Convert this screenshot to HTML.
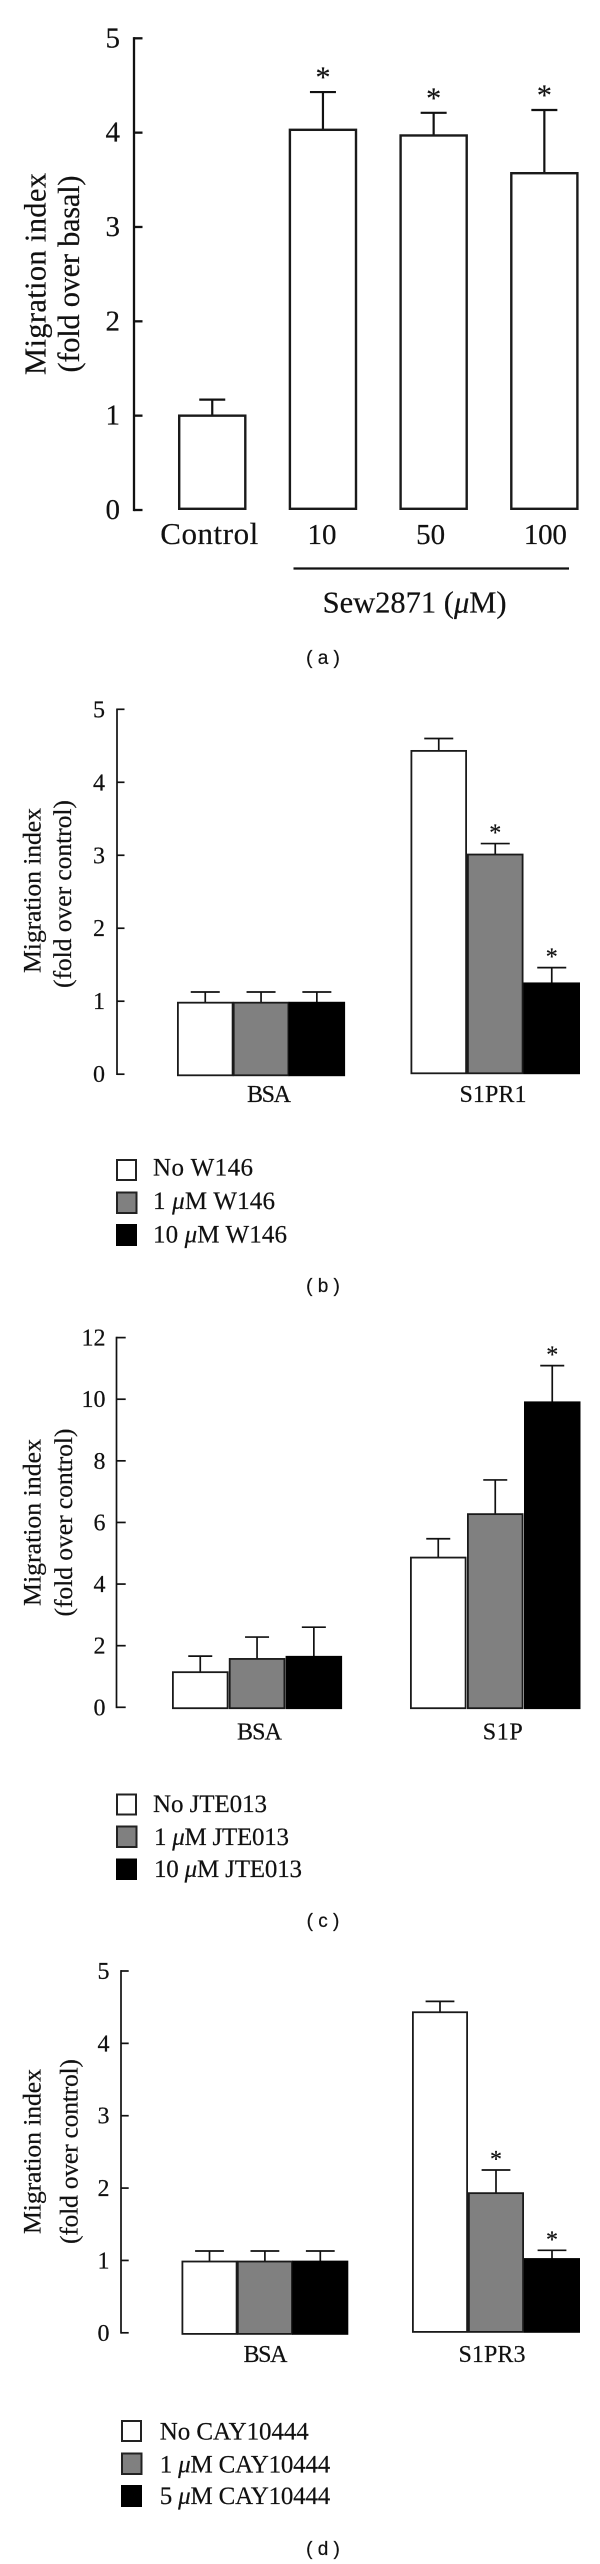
<!DOCTYPE html>
<html lang="en">
<head>
<meta charset="utf-8">
<title>Migration index panels</title>
<style>
html,body{margin:0;padding:0;background:#fff;}
svg{display:block;}
text{font-family:"Liberation Serif",serif;fill:#111;stroke:#111;stroke-width:.2px;}
.cap{font-family:"Liberation Sans",sans-serif;font-size:19px;text-anchor:middle;}
.ya{font-size:30.5px;}
.yb{font-size:25.8px;}
.leg{font-size:25px;}
.mu{font-style:italic;}
</style>
</head>
<body>
<svg id="figure" xmlns="http://www.w3.org/2000/svg" width="600" height="2564" viewBox="0 0 600 2564">
  <rect width="600" height="2564" fill="#fff"/>

  <g id="panel-a"></g>
  <text class="ya" text-anchor="middle" textLength="202" lengthAdjust="spacing" transform="translate(45.5 274) rotate(-90)">Migration index</text>
  <text class="ya" text-anchor="middle" textLength="197" lengthAdjust="spacing" transform="translate(79 274) rotate(-90)">(fold over basal)</text>
  <line x1="293.5" x2="569" y1="568.5" y2="568.5" stroke="#111" stroke-width="2.3"/>
  <text x="322.6" y="612.5" font-size="30.5" textLength="184" lengthAdjust="spacing">Sew2871 (<tspan class="mu">μ</tspan>M)</text>
  <text class="cap" x="323" y="664">( a )</text>

  <g id="panel-b"></g>
  <text class="yb" text-anchor="middle" textLength="165" lengthAdjust="spacing" transform="translate(40.7 890.5) rotate(-90)">Migration index</text>
  <text class="yb" text-anchor="middle" textLength="188" lengthAdjust="spacing" transform="translate(71 894) rotate(-90)">(fold over control)</text>
  <g>
    <rect x="117" y="1160" width="19" height="20" fill="#fff" stroke="#222" stroke-width="2"/>
    <rect x="117" y="1192.5" width="19.5" height="20.5" fill="#808080" stroke="#222" stroke-width="2"/>
    <rect x="116" y="1224" width="21" height="22" fill="#000"/>
    <text class="leg" x="153" y="1175.5" textLength="100" lengthAdjust="spacing">No W146</text>
    <text class="leg" x="153" y="1209" textLength="122" lengthAdjust="spacing">1 <tspan class="mu">μ</tspan>M W146</text>
    <text class="leg" x="153" y="1242.5" textLength="134" lengthAdjust="spacing">10 <tspan class="mu">μ</tspan>M W146</text>
  </g>
  <text class="cap" x="323" y="1292">( b )</text>

  <g id="panel-c"></g>
  <text class="yb" text-anchor="middle" textLength="167" lengthAdjust="spacing" transform="translate(40.7 1522.5) rotate(-90)">Migration index</text>
  <text class="yb" text-anchor="middle" textLength="188" lengthAdjust="spacing" transform="translate(72 1522.5) rotate(-90)">(fold over control)</text>
  <g>
    <rect x="117" y="1794.5" width="19" height="20" fill="#fff" stroke="#222" stroke-width="2"/>
    <rect x="117" y="1826.5" width="19.5" height="20.5" fill="#808080" stroke="#222" stroke-width="2"/>
    <rect x="116" y="1858.5" width="21" height="21.5" fill="#000"/>
    <text class="leg" x="153" y="1812" textLength="114" lengthAdjust="spacing">No JTE013</text>
    <text class="leg" x="154" y="1845" textLength="135" lengthAdjust="spacing">1 <tspan class="mu">μ</tspan>M JTE013</text>
    <text class="leg" x="154" y="1877" textLength="148" lengthAdjust="spacing">10 <tspan class="mu">μ</tspan>M JTE013</text>
  </g>
  <text class="cap" x="323" y="1927">( c )</text>

  <g id="panel-d"></g>
  <text class="yb" text-anchor="middle" textLength="165" lengthAdjust="spacing" transform="translate(40.7 2151.5) rotate(-90)">Migration index</text>
  <text class="yb" text-anchor="middle" textLength="185" lengthAdjust="spacing" transform="translate(77.5 2151.5) rotate(-90)">(fold over control)</text>
  <g>
    <rect x="122" y="2421" width="19" height="20" fill="#fff" stroke="#222" stroke-width="2"/>
    <rect x="122" y="2453.5" width="19.5" height="20.5" fill="#808080" stroke="#222" stroke-width="2"/>
    <rect x="121" y="2485" width="21" height="22" fill="#000"/>
    <text class="leg" x="159.8" y="2439.5" textLength="149" lengthAdjust="spacing">No CAY10444</text>
    <text class="leg" x="159.8" y="2472.5" textLength="170.5" lengthAdjust="spacing">1 <tspan class="mu">μ</tspan>M CAY10444</text>
    <text class="leg" x="159.8" y="2504" textLength="170.5" lengthAdjust="spacing">5 <tspan class="mu">μ</tspan>M CAY10444</text>
  </g>
  <text class="cap" x="323" y="2555">( d )</text>
</svg>

<script>
// ---- Panel (a) data ----
const aTicks = [0, 1, 2, 3, 4, 5];
const aCategories = ["Control", "10", "50", "100"];
const aValues = [1.0, 4.03, 3.97, 3.57];
const aErrors = [0.17, 0.40, 0.24, 0.67];
const aStars = [0, 1, 1, 1];

// ---- Panel (b) data ----
const bTicks = [0, 1, 2, 3, 4, 5];
const bCategories = ["BSA", "S1PR1"];
const bNoDrug = [0.98, 4.43];
const bLowDose = [0.98, 3.01];
const bHighDose = [0.98, 1.245];
const bNoDrugErr = [0.146, 0.17];
const bLowDoseErr = [0.146, 0.15];
const bHighDoseErr = [0.146, 0.215];
const bLowDoseStars = [0, 1];
const bHighDoseStars = [0, 1];

// ---- Panel (c) data ----
const cTicks = [0, 2, 4, 6, 8, 10, 12];
const cCategories = ["BSA", "S1P"];
const cNoDrug = [1.14, 4.86];
const cLowDose = [1.57, 6.27];
const cHighDose = [1.64, 9.9];
const cNoDrugErr = [0.52, 0.61];
const cLowDoseErr = [0.71, 1.11];
const cHighDoseErr = [0.96, 1.19];
const cLowDoseStars = [0, 0];
const cHighDoseStars = [0, 1];

// ---- Panel (d) data ----
const dTicks = [0, 1, 2, 3, 4, 5];
const dCategories = ["BSA", "S1PR3"];
const dNoDrug = [0.985, 4.43];
const dLowDose = [0.985, 1.93];
const dHighDose = [0.985, 1.02];
const dNoDrugErr = [0.145, 0.15];
const dLowDoseErr = [0.145, 0.32];
const dHighDoseErr = [0.145, 0.12];
const dLowDoseStars = [0, 1];
const dHighDoseStars = [0, 1];

// ---- Drawing ----
const NS = "http://www.w3.org/2000/svg";

function mk(parent, tag, attrs, txt) {
  const el = document.createElementNS(NS, tag);
  for (const k in attrs) el.setAttribute(k, attrs[k]);
  if (txt !== undefined) el.textContent = txt;
  parent.appendChild(el);
  return el;
}

function slug(s) {
  return String(s).toLowerCase().replace(/[^a-z0-9]+/g, "-");
}

function drawAxis(g, frame, ticks, yScale) {
  const axis = mk(g, "line", {x1: frame.axisX, x2: frame.axisX, y1: yScale(ticks[ticks.length - 1]) - frame.lineW / 2, y2: yScale(0) + frame.lineW / 2, stroke: "#111", "stroke-width": frame.lineW});
  
  
  ticks.forEach(function (t) {
    const tick = mk(g, "line", {x1: frame.axisX, x2: frame.tickEnd, y1: yScale(t), y2: yScale(t), stroke: "#111", "stroke-width": frame.lineW});
    
    
    const label = mk(g, "text", {x: frame.tickLabelRight, y: yScale(t) + frame.tickLabelDy, "text-anchor": "end", "font-size": frame.font}, t);
    
    
  });
}

function drawBar(g, frame, yScale, left, width, value, err, fill, star, drop, name) {
  const top = yScale(value);
  const bottom = yScale(0) + drop;
  const cx = left + width / 2;
  const errTop = yScale(value + err);
  const sw = frame.barStroke;

  const stem = mk(g, "line", {x1: cx, x2: cx, y1: top, y2: errTop, stroke: "#111", "stroke-width": frame.errW});
  
  
  const cap = mk(g, "line", {x1: cx - frame.capHalf, x2: cx + frame.capHalf, y1: errTop, y2: errTop, stroke: "#111", "stroke-width": frame.errW});
  
  

  const bar = mk(g, "rect", {x: left + sw / 2, y: top, width: width - sw, height: bottom - top - sw / 2, fill: fill, stroke: fill === "#000" ? "#000" : "#1a1a1a", "stroke-width": sw});
  
  

  if (star) {
    const s = mk(g, "text", {x: cx, y: errTop - frame.starDy, "text-anchor": "middle", "font-size": frame.starFont}, "*");
    
    
  }
}

function makeY(frame, maxTick) {
  return function (v) {
    return frame.yZero - (frame.yZero - frame.yTop) * v / maxTick;
  };
}

// Panel a: a single row of evenly stepped bars
(function () {
  const frame = {axisX: 134, tickEnd: 142.5, yTop: 38.3, yZero: 510, lineW: 2.3, tickLabelRight: 120, tickLabelDy: 9, font: 29, barStroke: 2.4, errW: 2.2, capHalf: 13, starDy: 5, starFont: 30};
  const firstLeft = 178, step = 110.7, width = 68.5;
  const labelShift = [-3, -1, -3, 1];
  const g = document.getElementById("panel-a");
  const y = makeY(frame, aTicks[aTicks.length - 1]);
  drawAxis(g, frame, aTicks, y);
  aCategories.forEach(function (c, i) {
    const left = firstLeft + i * step;
    drawBar(g, frame, y, left, width, aValues[i], aErrors[i], "#fff", aStars[i], 0, slug(c));
    const lab = mk(g, "text", {x: left + width / 2 + labelShift[i], y: 544, "text-anchor": "middle", "font-size": i === 0 ? 31 : 29, textLength: i === 0 ? 98 : (i === 3 ? 43 : 29), lengthAdjust: "spacing"}, c);
    
    
  });
})();

// Panels b, c, d: two groups of three bars
function drawGrouped(id, frame, ticks, categories, series, errors, stars) {
  const g = document.getElementById(id);
  const y = makeY(frame, ticks[ticks.length - 1]);
  const fills = ["#fff", "#808080", "#000"];
  const doses = ["none", "low", "high"];
  drawAxis(g, frame, ticks, y);
  categories.forEach(function (c, gi) {
    series.forEach(function (vals, si) {
      const left = frame.groupLeft[gi] + si * frame.groupStep[gi];
      const st = stars[si] ? stars[si][gi] : 0;
      drawBar(g, frame, y, left, frame.barW, vals[gi], errors[si][gi], fills[si], st, frame.groupDrop[gi], slug(c) + '-' + doses[si]);
    });
    const lab = mk(g, "text", {x: frame.labelX[gi], y: frame.labelY, "text-anchor": "middle", "font-size": frame.font, textLength: frame.labelW[gi], lengthAdjust: "spacing"}, c);
    
    
  });
}

drawGrouped("panel-b",
  {axisX: 117, tickEnd: 124.5, yTop: 709.3, yZero: 1074.2, lineW: 1.7, tickLabelRight: 105, tickLabelDy: 8, font: 24, barStroke: 1.8, errW: 1.7, capHalf: 14.5, starDy: 3, starFont: 24,
   groupLeft: [177, 410.5], groupStep: [55.8, 56.5], groupDrop: [2, 0], barW: 56.5, labelX: [269, 493], labelY: 1102, labelW: [44, 67]},
  bTicks, bCategories, [bNoDrug, bLowDose, bHighDose], [bNoDrugErr, bLowDoseErr, bHighDoseErr], [null, bLowDoseStars, bHighDoseStars]);

drawGrouped("panel-c",
  {axisX: 116.5, tickEnd: 125.7, yTop: 1337.6, yZero: 1707.3, lineW: 1.7, tickLabelRight: 105.5, tickLabelDy: 8, font: 24, barStroke: 1.8, errW: 1.7, capHalf: 12, starDy: 3, starFont: 24,
   groupLeft: [172, 410], groupStep: [56.8, 57], groupDrop: [1.8, 1.8], barW: 56.5, labelX: [259.5, 502.7], labelY: 1739.5, labelW: [45, 40]},
  cTicks, cCategories, [cNoDrug, cLowDose, cHighDose], [cNoDrugErr, cLowDoseErr, cHighDoseErr], [null, cLowDoseStars, cHighDoseStars]);

drawGrouped("panel-d",
  {axisX: 121, tickEnd: 128.7, yTop: 1971, yZero: 2332.8, lineW: 1.7, tickLabelRight: 109.5, tickLabelDy: 8, font: 24, barStroke: 1.8, errW: 1.7, capHalf: 14.4, starDy: 3, starFont: 24,
   groupLeft: [181.5, 412], groupStep: [55.4, 56], groupDrop: [2, 0], barW: 56, labelX: [265.5, 492], labelY: 2362, labelW: [44, 67]},
  dTicks, dCategories, [dNoDrug, dLowDose, dHighDose], [dNoDrugErr, dLowDoseErr, dHighDoseErr], [null, dLowDoseStars, dHighDoseStars]);
</script>
</body>
</html>
